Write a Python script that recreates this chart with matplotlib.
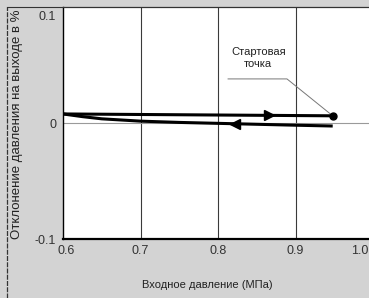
import matplotlib.pyplot as plt
from matplotlib.lines import Line2D
from matplotlib.transforms import ScaledTranslation
import numpy as np

plt.rcParams['font.family'] = ['Liberation Sans Narrow', 'Liberation Sans', 'DejaVu Sans']

# forward path (from 0.6 up to the start point) and return path
fwd_x = [0.6, 0.948]
fwd_y = [0.0078, 0.0062]
ret_x = [0.6, 0.625, 0.65, 0.7, 0.75, 0.8, 0.85, 0.9, 0.948]
ret_y = [0.0078, 0.0055, 0.0036, 0.0016, 0.0005, -0.0003, -0.0011, -0.0019, -0.0026]
start_x, start_y = 0.948, 0.0062
arrow_fwd_x = 0.866
arrow_ret_x = 0.822

xticks = [0.6, 0.7, 0.8, 0.9, 1.0]
xtick_labels = ['0.6', '0.7', '0.8', '0.9', '1.0']
yticks = [-0.1, 0, 0.1]
ytick_labels = ['-0.1', '0', '0.1']

W, H = 369, 298
fig = plt.figure(figsize=(W / 100, H / 100), dpi=100, facecolor='#d3d3d3')
ax = fig.add_axes([63 / W, 1 - 239 / H, 310 / W, 232 / H])
ax.set_facecolor('white')

ax.set_xlim(0.6, 1.0)
ax.set_ylim(-0.1, 0.1)

# vertical grid + zero line
for x in [0.7, 0.8, 0.9]:
    ax.axvline(x, color='#3a3a3a', lw=0.8, zorder=1)
ax.axhline(0, color='#9a9a9a', lw=0.8, zorder=1)

ax.plot(fwd_x, fwd_y, color='black', lw=2.2, solid_capstyle='butt', zorder=3)
ax.plot(ret_x, ret_y, color='black', lw=2.2, solid_capstyle='butt', zorder=3)
ax.plot(start_x, start_y, 'o', color='black', ms=5, zorder=4)

# direction arrows
ax.plot(arrow_fwd_x, np.interp(arrow_fwd_x, fwd_x, fwd_y), marker='>',
        color='black', ms=7, zorder=4)
ax.plot(arrow_ret_x, np.interp(arrow_ret_x, ret_x, ret_y), marker='<',
        color='black', ms=7, zorder=4)

# annotation with leader line
ax.plot([0.813, 0.889, start_x], [0.038, 0.038, start_y], color='#777777', lw=0.7, zorder=2)
ax.text(0.852, 0.056, 'Стартовая\nточка', ha='center', va='center',
        fontsize=8, linespacing=1.3, color='#222222')

ax.set_xticks(xticks)
ax.set_xticklabels(xtick_labels, fontsize=9, color='#333333')
ax.set_yticks(yticks)
ax.set_yticklabels(ytick_labels, fontsize=9, color='#333333')
ax.tick_params(length=0)
ax.tick_params(axis='x', pad=4)
ax.tick_params(axis='y', pad=5)


def shift(label, dx, dy):
    label.set_transform(label.get_transform() + ScaledTranslation(dx / 100, dy / 100, fig.dpi_scale_trans))


xl = ax.get_xticklabels()
shift(xl[0], 3, 0)
xl[-1].set_ha('right')
shift(xl[-1], -5, 0)
yl = ax.get_yticklabels()
shift(yl[-1], 0, -9)

ax.spines['right'].set_visible(False)
ax.spines['top'].set_linewidth(0.8)
ax.spines['left'].set_linewidth(1.0)
ax.spines['bottom'].set_linewidth(1.6)

# scan frame lines
fig.add_artist(Line2D([7 / W, 1], [1 - 7 / H, 1 - 7 / H], color='#333333', lw=0.8))
fig.add_artist(Line2D([7 / W, 7 / W], [0, 1 - 7 / H], color='#333333', lw=0.9, ls=(0, (4, 1))))

fig.text(207 / W, 1 - 285 / H, 'Входное давление (МПа)', ha='center', va='center',
         fontsize=8, color='#222222')
fig.text(17 / W, 1 - 124 / H, 'Отклонение давления на выходе в %', ha='center',
         va='center', rotation=90, fontsize=9.5, color='#222222')

fig.savefig('out.png', dpi=100, facecolor=fig.get_facecolor())
